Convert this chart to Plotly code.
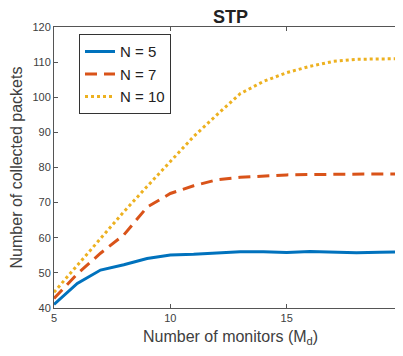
import plotly.graph_objects as go

monitors = list(range(5, 21))
n5 = [41.0, 47.0, 50.8, 52.3, 54.1, 55.1, 55.3, 55.6, 56.0, 56.0, 55.8, 56.1, 56.0, 55.7, 55.9, 56.0]
n7 = [42.7, 49.7, 55.6, 60.8, 68.7, 72.6, 74.8, 76.5, 77.2, 77.6, 77.9, 78.0, 78.0, 78.2, 78.2, 78.2]
n10 = [44.5, 52.2, 59.6, 67.4, 74.6, 81.8, 88.8, 95.0, 101.0, 104.5, 107.0, 108.8, 110.2, 110.8, 111.0, 111.0]
x_ticks = [5, 10, 15, 20]
y_ticks = [40, 50, 60, 70, 80, 90, 100, 110, 120]

FONT = "Liberation Sans, Arial, sans-serif"

# page body has an 8px default margin; figure is sized so the page never scrolls
W, H = 395, 338
ML, MT, MB, MR = 46, 19, 38, 0
PW, PH = W - ML - MR, H - MT - MB

fig = go.Figure()
fig.add_trace(go.Scatter(x=monitors, y=n5, mode="lines", name="N = 5",
                         line=dict(color="#0072BD", width=3)))
fig.add_trace(go.Scatter(x=monitors, y=n7, mode="lines", name="N = 7",
                         line=dict(color="#D95319", width=3, dash="12px,7px")))
fig.add_trace(go.Scatter(x=monitors, y=n10, mode="lines", name="N = 10",
                         line=dict(color="#EDB120", width=3, dash="3px,3px")))

axis_common = dict(
    showline=True, linecolor="#555555", linewidth=1, mirror="ticks",
    ticks="inside", ticklen=4, tickcolor="#555555", showgrid=False, zeroline=False,
    automargin=False,
    tickfont=dict(family=FONT, size=11, color="#404040"),
)

fig.update_layout(
    width=W, height=H,
    margin=dict(l=ML, r=MR, t=MT, b=MB),
    paper_bgcolor="white", plot_bgcolor="white",
    title=dict(text="<b>STP</b>", x=0.506, xref="paper", xanchor="center",
               y=1 - 8.5 / H, yanchor="middle",
               font=dict(family=FONT, size=18, color="#222222")),
    font=dict(family=FONT),
    showlegend=True,
    legend=dict(x=25 / PW, y=(PH + 0.5 - (34.7 - 27)) / PH, xanchor="left", yanchor="top",
                bordercolor="#333333", borderwidth=1, bgcolor="white",
                font=dict(size=15, color="#222222"), itemwidth=30,
                tracegroupgap=0),
    xaxis=dict(range=[5, 20], tickvals=x_ticks, ticklabeloverflow="allow",
               **axis_common),
    yaxis=dict(range=[40, 120], tickvals=y_ticks,
               title=dict(text="Number of collected packets",
                          font=dict(size=16, color="#404040")),
               **axis_common),
    annotations=[dict(text="Number of monitors (M<sub>d</sub>)", xref="paper", yref="paper",
                      x=0.505, y=-29.5 / PH, xanchor="center", yanchor="middle",
                      showarrow=False, font=dict(size=16, color="#404040"))],
)

fig.write_html("out.html")
